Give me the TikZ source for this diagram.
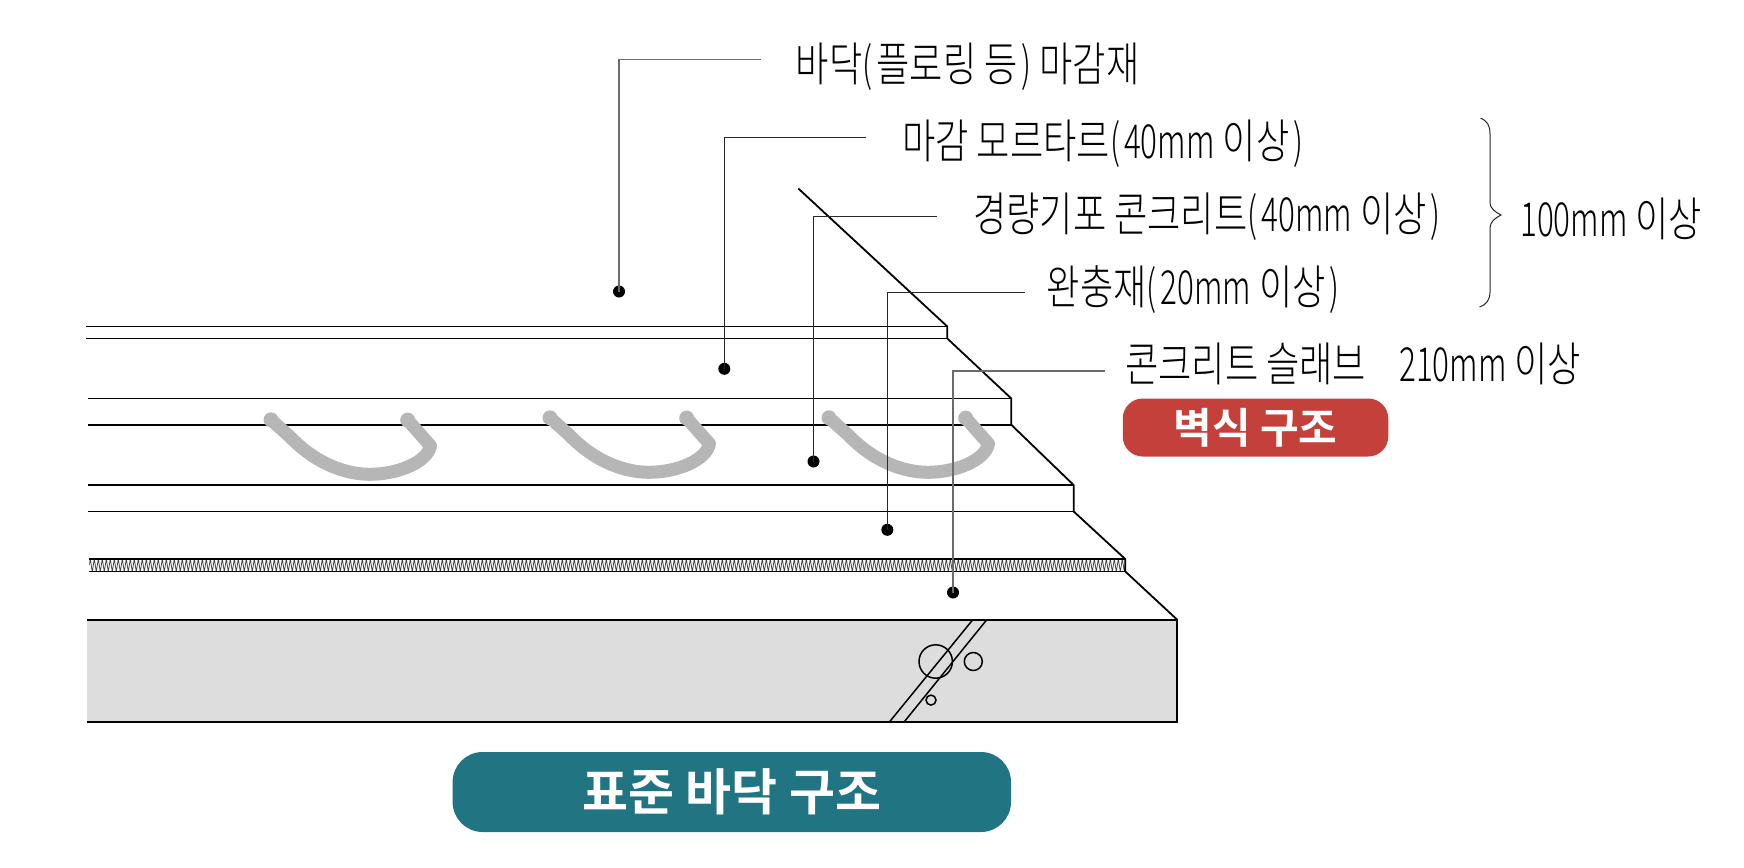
\documentclass[tikz,border=0pt]{standalone}
\usepackage{fontspec}
\usetikzlibrary{decorations.pathmorphing}
\setmainfont[FakeStretch=0.77]{Noto Sans CJK KR Light}
\newfontfamily\narrowlatin[FakeStretch=0.67]{Noto Sans CJK KR Light}
\newcommand{\nl}[1]{{\narrowlatin #1}}
\newcommand{\lp}{{\narrowlatin (}\kern4pt}
\newcommand{\rp}{\kern4pt{\narrowlatin )}}
\newfontfamily\badgefont{Noto Sans CJK KR Bold}
\definecolor{pipegray}{HTML}{B5B6B5}
\definecolor{slabgray}{HTML}{DCDDDC}
\definecolor{badgered}{HTML}{C4403A}
\definecolor{badgeteal}{HTML}{217482}
\tikzset{
  edge line/.style={line width=1.8pt,black},
  thin edge/.style={line width=1.5pt,black},
  pipe line/.style={line width=13pt,pipegray,line cap=round,line join=round},
  leader/.style={line width=1.1pt,black!85},
  leader soft/.style={line width=1.5pt,black!58},
  leader dot/.style={circle,fill=black,inner sep=0pt,minimum size=12pt},
  lab/.style={anchor=base west,inner sep=0pt,font=\fontsize{47pt}{47pt}\selectfont},
  badge/.style={fill=#1,draw=none,text=white,inner sep=0pt},
}
\newcommand{\pipeat}[2]{%
  \draw[pipe line,shift={(#1,#2)}] (829,417) -- (848,434)
    .. controls (875,462) and (905,471.5) .. (928,471.5)
    .. controls (955,471.5) and (985,460) .. (988.5,443)
    -- (965.7,417.3);
  \fill[pipegray,shift={(#1,#2)}] (829,417) circle (7.5) (965.7,417.3) circle (7.5);}
\begin{document}
\begin{tikzpicture}[x=1pt,y=-1pt]
\useasboundingbox (0,0) rectangle (1744,867);
\begin{scope}[shift={(0,0.8)}]
% slab
\fill[slabgray] (86.7,619) rectangle (1177.3,721.3);
\draw[edge line] (86.7,721.3) -- (1177.3,721.3) -- (1177.3,619) -- (86.7,619);
\draw[thin edge] (972.7,619) -- (889.3,721.3);
\draw[thin edge] (986.7,619) -- (904,721.3);
\draw[thin edge] (935.7,660.7) circle (16.7);
\draw[thin edge] (973.3,660.7) circle (9);
\draw[thin edge] (931,699.3) circle (5);
% insulation band
\begin{scope}
\clip (89.3,558.3) rectangle (1125.3,570.7);
\draw[line width=0.75pt,black!75,decorate,decoration={zigzag,segment length=4pt,amplitude=6.5pt}] (89.3,564.5) -- (1125.3,564.5);
\end{scope}
% horizontal layer lines
\draw[edge line] (86,325.7) -- (947.3,325.7);
\draw[edge line] (86,337.7) -- (947.3,337.7);
\draw[edge line] (88,397.7) -- (1011.3,397.7);
\draw[edge line] (88,424) -- (1011.3,424);
\draw[edge line] (88,484.3) -- (1073.7,484.3);
\draw[edge line] (88,510.7) -- (1073.7,510.7);
\draw[edge line] (89.3,558.3) -- (1125.3,558.3);
\draw[edge line] (89.3,570.7) -- (1125.3,570.7);
% stepped cut edge
\draw[edge line,line join=round] (798.3,187.7) -- (947.3,325.7) -- (947.3,337.7)
  -- (1011.3,397.7) -- (1011.3,424) -- (1073.7,484.3) -- (1073.7,510.7)
  -- (1125.3,558.3) -- (1125.3,570.7) -- (1177.3,619);
% heating pipes
\pipeat{-558}{2}
\pipeat{-279}{0}
\pipeat{0}{0}
% leaders
\node[leader dot] (d1) at (619,290.7) {};
\node[leader dot] (d2) at (724.3,368) {};
\node[leader dot] (d3) at (813.5,460.7) {};
\node[leader dot] (d4) at (887.3,529) {};
\node[leader dot] (d5) at (953,591.7) {};
\coordinate (e1) at (760.7,58.7);
\coordinate (e2) at (866.3,136.7);
\coordinate (e3) at (937,215.3);
\coordinate (e4) at (1025,291.3);
\coordinate (e5) at (1105.3,370);
\draw[leader soft] (e1) -| (d1.center);
\draw[leader] (e2) -| (d2.center);
\draw[leader] (e3) -| (d3.center);
\draw[leader] (e4) -| (d4.center);
\draw[leader soft] (e5) -| (d5.center);
\end{scope}
% labels
\node[lab] (l1) at (795.7,81.4) {바닥\lp 플로링 등\rp{} 마감재};
\node[lab] (l2) at (902.2,158.7) {마감 모르타르\lp\nl{40mm} 이상\rp};
\node[lab] (l3) at (973,231) {경량기포 콘크리트\lp\nl{40mm} 이상\rp};
\node[lab] (l4) at (1046.7,304.3) {완충재\lp\nl{20mm} 이상\rp};
\node[lab] (l5) at (1125,381.7) {콘크리트 슬래브};
\node[lab] (l6) at (1399,381.7) {\nl{210mm} 이상};
\node[lab] (l7) at (1520,236) {\nl{100mm} 이상};
% brace
\coordinate (bt) at (1480.6,118);
\coordinate (bb) at (1479.5,307);
\coordinate (btip) at (1501,215);
\draw[line width=1pt,black!85] (bt) .. controls (1487,121) and (1490,125) .. (1490,134)
  -- (1490,203) .. controls (1490,208) and (1495,212) .. (btip)
  .. controls (1495,218) and (1490,222) .. (1490,228)
  -- (1490,292) .. controls (1490,300) and (1486,305) .. (bb);
% badges
\node[badge=badgered,rounded corners=20pt,minimum width=265.5pt,minimum height=58pt] (b1) at (1255.5,427.5) {};
\node[text=white,inner sep=0pt,font=\badgefont\fontsize{42pt}{42pt}\selectfont] (b1t) at (b1.center) {벽식 구조};
\node[badge=badgeteal,rounded corners=30pt,minimum width=558.4pt,minimum height=80pt] (b2) at (731.8,792) {};
\node[text=white,inner sep=0pt,font=\badgefont\fontsize{50pt}{50pt}\selectfont] (b2t) at (b2.center) {표준 바닥 구조};
\end{tikzpicture}
\end{document}
